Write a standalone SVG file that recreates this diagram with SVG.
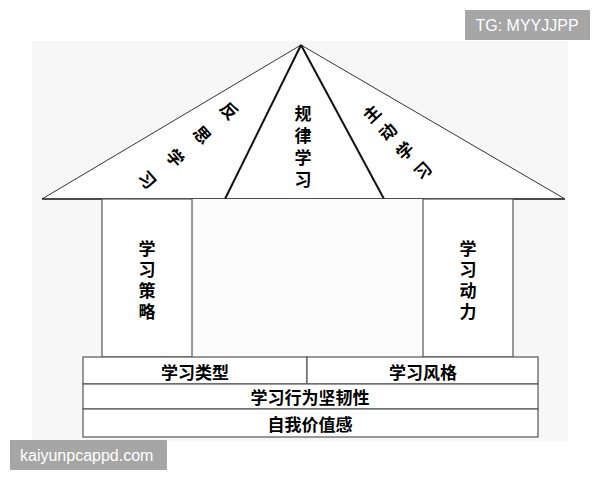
<svg xmlns="http://www.w3.org/2000/svg" width="600" height="480" viewBox="0 0 600 480">
<style>
.t{font-family:"Noto Sans CJK SC","Noto Sans",sans-serif;font-weight:bold;font-size:17px;fill:#000;text-anchor:middle;dominant-baseline:central}
.box{fill:#fff;stroke:#555;stroke-width:1.2}
.wm{font-family:"Liberation Sans","Noto Sans",sans-serif;font-size:16px;fill:#fff}
</style>
<rect x="0" y="0" width="600" height="480" fill="#fff"/>
<rect x="32" y="41" width="536" height="400" fill="#f7f7f7"/>
<g id="roof">
<polygon points="301,45 42,199 565,199" fill="#fff" stroke="#333" stroke-width="1"/>
</g>
<g id="connectors">
<line x1="301" y1="45" x2="225" y2="199" stroke="#111" stroke-width="2"/>
<line x1="301" y1="45" x2="384" y2="199" stroke="#111" stroke-width="2"/>
<line x1="42" y1="199" x2="565" y2="199" stroke="#333" stroke-width="1.4"/>
</g>
<g id="reflect">
<text class="t" x="230" y="110" transform="rotate(48 230 110)">反</text>
<text class="t" x="203" y="134" transform="rotate(48 203 134)">思</text>
<text class="t" x="176" y="157" transform="rotate(48 176 157)">学</text>
<text class="t" x="148" y="179" transform="rotate(48 148 179)">习</text>
</g>
<g id="rule">
<text class="t" x="303" y="112" font-size="18">规</text>
<text class="t" x="303" y="134" font-size="18">律</text>
<text class="t" x="303" y="156" font-size="18">学</text>
<text class="t" x="303" y="178" font-size="18">习</text>
</g>
<g id="active">
<text class="t" x="371" y="113" transform="rotate(-43 371 113)">主</text>
<text class="t" x="387" y="131" transform="rotate(-43 387 131)">动</text>
<text class="t" x="404" y="150" transform="rotate(-43 404 150)">学</text>
<text class="t" x="422" y="170" transform="rotate(-43 422 170)">习</text>
</g>
<rect x="192" y="199" width="231" height="158" fill="#fcfcfc"/>
<g id="strategy">
<rect class="box" x="102" y="199" width="90" height="158"/>
<text class="t" x="147" y="247">学</text>
<text class="t" x="147" y="268">习</text>
<text class="t" x="147" y="289">策</text>
<text class="t" x="147" y="310">略</text>
</g>
<g id="motivation">
<rect class="box" x="423" y="199" width="90" height="158"/>
<text class="t" x="468" y="247">学</text>
<text class="t" x="468" y="268">习</text>
<text class="t" x="468" y="289">动</text>
<text class="t" x="468" y="310">力</text>
</g>
<g id="type">
<rect class="box" x="83" y="357" width="224" height="27"/>
<text class="t" x="195" y="371">学习类型</text>
</g>
<g id="style">
<rect class="box" x="307" y="357" width="231" height="27"/>
<text class="t" x="423" y="371">学习风格</text>
</g>
<g id="persistence">
<rect class="box" x="83" y="384" width="455" height="25"/>
<text class="t" x="310" y="396">学习行为坚韧性</text>
</g>
<g id="selfworth">
<rect class="box" x="83" y="409" width="455" height="28"/>
<text class="t" x="310" y="423">自我价值感</text>
</g>
<g id="watermarks">
<rect x="465" y="10" width="125" height="30" fill="#a6a6a6"/>
<text class="wm" x="527" y="31" text-anchor="middle">TG: MYYJJPP</text>
<rect x="10" y="440" width="157" height="30" fill="#a6a6a6"/>
<text class="wm" x="20" y="461">kaiyunpcappd.com</text>
</g>
</svg>
